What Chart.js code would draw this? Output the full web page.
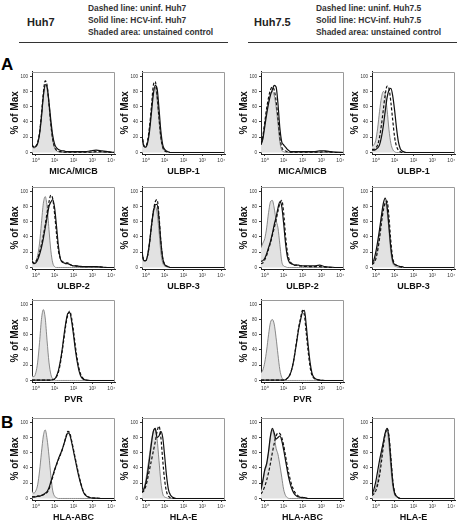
<!DOCTYPE html>
<html><head><meta charset="utf-8">
<script src="https://cdn.jsdelivr.net/npm/chart.js@4.4.1/dist/chart.umd.min.js"></script>
<style>
html,body{margin:0;padding:0;background:#fff;}
body{width:458px;height:525px;position:relative;overflow:hidden;font-family:"Liberation Sans",Arial,sans-serif;}
.t{position:absolute;font-weight:bold;color:#222;white-space:nowrap;}
.rule{position:absolute;height:1px;background:#333;}
canvas{position:absolute;}
</style></head><body>
<div class="t" style="left:27px;top:16px;font-size:11px;line-height:13px">Huh7</div>
<div class="t" style="left:88px;top:2px;font-size:8.4px;line-height:12px;color:#333">Dashed line: uninf. Huh7<br>Solid line: HCV-inf. Huh7<br>Shaded area: unstained control</div>
<div class="rule" style="left:19px;top:42px;width:209px"></div>
<div class="t" style="left:254px;top:16px;font-size:11px;line-height:13px">Huh7.5</div>
<div class="t" style="left:316px;top:2px;font-size:8.4px;line-height:12px;color:#333">Dashed line: uninf. Huh7.5<br>Solid line: HCV-inf. Huh7.5<br>Shaded area: unstained control</div>
<div class="rule" style="left:248px;top:42px;width:209px"></div>
<div class="t" style="left:1px;top:55.6px;font-size:17px;line-height:17px;color:#000">A</div>
<div class="t" style="left:1px;top:413.6px;font-size:17px;line-height:17px;color:#000">B</div>
<script>
// ---- data ----
const channelDecades = [-0.2,-0.1,0,0.1,0.2,0.3,0.4,0.5,0.6,0.7,0.8,0.9,1.0,1.1,1.2,1.3,1.4,1.5,1.6,1.7,1.8,1.9,2.0,2.1,2.2,2.3,2.4,2.5,2.6,2.9,3.2,3.5,3.8,4.2];
const axisTickDecades = [0,1,2,3,4];
const axisTickLabels = ['10\u2070','10\u00b9','10\u00b2','10\u00b3','10\u2074'];
const yTickValues = [0,20,40,60,80,100];
const yAxisTitle = '% of Max';

const huh7_MICA_ctrl  = [8,6,7,12,25,47,72,87,83,62, 35,16,6,2,1,0,0,0,0,0, 0,0,0,0,0,0,0,0,0, 0,0,0,0,0];
const huh7_MICA_uninf = [10,7,8,13,26,50,78,94,88,64, 37,17,7,3,2,1,1,0.5,0.5,0.5, 0.5,0.5,0.5,0.5,0.5,0.5,0.5,0.5,0.5, 0.5,1,1,0.5,0];
const huh7_MICA_inf   = [10,7,8,12,24,46,74,89,86,66, 42,22,11,6,4,3,2,2,1,1, 1,1,1,1,1,1,1,1,1, 2,3,2,1,0];

const huh7_ULBP1_ctrl  = [20,8,7,15,32,57,80,86,70,42, 18,6,2,1,0,0,0,0,0,0, 0,0,0,0,0,0,0,0,0, 0,0,0,0,0];
const huh7_ULBP1_uninf = [24,9,8,16,34,60,88,93,75,46, 20,7,2,1,0,0,0,0,0,0, 0,0,0,0,0,0,0,0,0, 0,0,0,0,0];
const huh7_ULBP1_inf   = [22,8,7,13,28,52,76,88,84,58, 28,10,4,2,1,0,0,0,0,0, 0,0,0,0,0,0,0,0,0, 0,0,0,0,0];

const huh75_MICA_ctrl  = [10,20,38,55,68,77,80,75,60,38, 14,3,1,0,0,0,0,0,0,0, 0,0,0,0,0,0,0,0,0, 0,0,0,0,0];
const huh75_MICA_uninf = [11,22,40,58,72,82,86,82,68,45, 20,7,3,2,1,0.5,0.5,0.5,0.5,0.5, 0.5,0.5,0.5,0.5,0.5,0.5,0.5,0.5,0.5, 0.5,1,0.5,0,0];
const huh75_MICA_inf   = [10,18,34,50,64,75,82,88,86,64, 32,14,10,7,4,2,1,1,1,1, 1,1,1,1,1,1,1,1,1, 2,2,1,0.5,0];

const huh75_ULBP1_ctrl  = [8,10,16,32,54,72,80,76,56,30, 12,4,1,0,0,0,0,0,0,0, 0,0,0,0,0,0,0,0,0, 0,0,0,0,0];
const huh75_ULBP1_uninf = [4,4,6,10,20,36,56,76,87,84, 66,42,20,8,3,1,0,0,0,0, 0,0,0,0,0,0,0,0,0, 0,0,0,0,0];
const huh75_ULBP1_inf   = [3,3,4,6,10,20,35,54,72,82, 84,74,55,32,14,5,2,1,0,0, 0,0,0,0,0,0,0,0,0, 0,0,0,0,0];

const huh7_ULBP2_ctrl  = [10,6,8,16,32,58,84,93,80,50, 22,6,1,0,0,0,0,0,0,0, 0,0,0,0,0,0,0,0,0, 0,0,0,0,0];
const huh7_ULBP2_uninf = [8,6,8,12,20,30,42,56,72,86, 95,90,70,44,22,12,8,7,6,6, 4,3,2,2,1.5,1.5,1,1,1, 1,1,0.5,0,0];
const huh7_ULBP2_inf   = [8,5,6,10,17,26,38,52,66,80, 86,89,78,54,28,12,7,6,5,5, 4,3,2,2,2,1.5,1.5,1,1, 1,1,0.5,0,0];

const huh7_ULBP3_ctrl  = [18,8,9,18,35,56,74,80,72,48, 20,6,2,1,0,0,0,0,0,0, 0,0,0,0,0,0,0,0,0, 0,0,0,0,0];
const huh7_ULBP3_uninf = [20,9,9,16,32,54,74,86,89,68, 34,12,4,2,1,0,0,0,0,0, 0,0,0,0,0,0,0,0,0, 0,0,0,0,0];
const huh7_ULBP3_inf   = [20,9,9,16,32,54,72,82,83,64, 34,12,4,2,1,0,0,0,0,0, 0,0,0,0,0,0,0,0,0, 0,0,0,0,0];

const huh75_ULBP2_ctrl  = [26,32,38,52,72,86,88,78,62,52, 30,8,2,1,0,0,0,0,0,0, 0,0,0,0,0,0,0,0,0, 0,0,0,0,0];
const huh75_ULBP2_uninf = [5,6,10,16,24,32,42,52,62,74, 84,88,72,42,20,10,6,4,3,3, 2,2,2,1.5,1.5,1.5,1,1,1, 1,0.5,0,0,0];
const huh75_ULBP2_inf   = [8,9,12,18,26,34,44,56,66,78, 86,80,58,32,14,7,5,4,3,3, 3,2,2,2,2,2,2,2,2, 3,1,0.5,0,0];

const huh75_ULBP3_ctrl  = [4,7,14,26,44,64,80,85,74,48, 20,6,2,1,0,0,0,0,0,0, 0,0,0,0,0,0,0,0,0, 0,0,0,0,0];
const huh75_ULBP3_uninf = [4,6,11,22,38,58,75,85,87,66, 34,12,5,3,2,1,0,0,0,0, 0,0,0,0,0,0,0,0,0, 0,0,0,0,0];
const huh75_ULBP3_inf   = [5,10,20,34,50,68,84,91,80,54, 26,9,4,3,2,1,1,0,0,0, 0,0,0,0,0,0,0,0,0, 0,0,0,0,0];

const huh7_PVR_ctrl  = [6,5,10,24,50,80,93,82,52,24, 8,2,0.5,0,0,0,0,0,0,0, 0,0,0,0,0,0,0,0,0, 0,0,0,0,0];
const huh7_PVR_uninf = [0.5,0.5,0.5,0.5,0.5,0.5,0.5,0.5,0.5,0.5, 0.5,1,2,5,11,22,38,56,74,86, 91,82,65,45,28,15,7,3,1, 0,0,0,0,0];
const huh7_PVR_inf   = [0.5,0.5,0.5,0.5,0.5,0.5,0.5,0.5,0.5,0.5, 0.5,1,2,6,13,25,41,60,77,88, 89,78,60,40,24,12,5,2,1, 0,0,0,0,0];

const huh75_PVR_ctrl  = [10,14,24,40,60,76,80,74,56,34, 14,4,1,0,0,0,0,0,0,0, 0,0,0,0,0,0,0,0,0, 0,0,0,0,0];
const huh75_PVR_uninf = [0.5,0.5,0.5,0.5,0.5,0.5,0.5,0.5,0.5,0.5, 0.5,0.5,0.5,1,3,6,12,22,37,54, 70,82,92,86,62,38,18,7,3, 0.5,0,0,0,0];
const huh75_PVR_inf   = [0.5,0.5,0.5,0.5,0.5,0.5,0.5,0.5,0.5,0.5, 0.5,0.5,0.5,1,3,6,12,22,36,52, 68,80,90,92,72,46,24,10,4, 0.5,0,0,0,0];

const huh7_HLAABC_ctrl  = [9,7,10,18,36,60,82,90,78,56, 30,10,3,1,0,0,0,0,0,0, 0,0,0,0,0,0,0,0,0, 0,0,0,0,0];
const huh7_HLAABC_uninf = [2,2,2,3,3,4,5,6,8,12, 20,28,37,44,51,57,64,72,81,88, 86,76,64,52,40,29,19,11,6, 1,0.5,0,0,0];
const huh7_HLAABC_inf   = [2,2,2,3,3,4,5,7,9,14, 22,30,38,45,52,58,64,72,80,86, 84,74,62,50,38,27,18,10,5, 1,0.5,0,0,0];

const huh7_HLAE_ctrl  = [10,14,24,40,58,76,88,92,78,50, 22,6,2,1,0,0,0,0,0,0, 0,0,0,0,0,0,0,0,0, 0,0,0,0,0];
const huh7_HLAE_uninf = [8,10,16,26,38,50,62,74,88,95, 80,50,24,9,3,1,0,0,0,0, 0,0,0,0,0,0,0,0,0, 0,0,0,0,0];
const huh7_HLAE_inf   = [8,12,20,34,52,72,88,92,80,82, 88,80,56,30,12,5,2,1,0,0, 0,0,0,0,0,0,0,0,0, 0,0,0,0,0];

const huh75_HLAABC_ctrl  = [10,22,36,44,60,80,90,82,66,58, 44,28,12,4,1,0,0,0,0,0, 0,0,0,0,0,0,0,0,0, 0,0,0,0,0];
const huh75_HLAABC_uninf = [6,10,16,24,34,46,60,72,82,86, 85,80,70,56,42,30,20,13,8,5, 3,2,1.5,1,0.5,0,0,0,0, 0,0,0,0,0];
const huh75_HLAABC_inf   = [12,24,38,46,62,82,92,86,78,80, 82,76,64,50,36,24,15,9,5,3, 2,1.5,1,1,0.5,0,0,0,0, 0,0,0,0,0];

const huh75_HLAE_ctrl  = [5,8,14,24,38,56,74,86,88,70, 40,16,5,2,1,0,0,0,0,0, 0,0,0,0,0,0,0,0,0, 0,0,0,0,0];
const huh75_HLAE_uninf = [4,6,10,18,30,48,68,84,92,82, 54,24,8,3,1,0,0,0,0,0, 0,0,0,0,0,0,0,0,0, 0,0,0,0,0];
const huh75_HLAE_inf   = [6,12,22,36,50,62,74,86,92,80, 50,22,7,3,1,0,0,0,0,0, 0,0,0,0,0,0,0,0,0, 0,0,0,0,0];

const panels = [
  {marker:'MICA/MICB', ctrl:huh7_MICA_ctrl,  uninf:huh7_MICA_uninf,  inf:huh7_MICA_inf},
  {marker:'ULBP-1',    ctrl:huh7_ULBP1_ctrl, uninf:huh7_ULBP1_uninf, inf:huh7_ULBP1_inf},
  {marker:'MICA/MICB', ctrl:huh75_MICA_ctrl, uninf:huh75_MICA_uninf, inf:huh75_MICA_inf},
  {marker:'ULBP-1',    ctrl:huh75_ULBP1_ctrl,uninf:huh75_ULBP1_uninf,inf:huh75_ULBP1_inf},
  {marker:'ULBP-2',    ctrl:huh7_ULBP2_ctrl, uninf:huh7_ULBP2_uninf, inf:huh7_ULBP2_inf},
  {marker:'ULBP-3',    ctrl:huh7_ULBP3_ctrl, uninf:huh7_ULBP3_uninf, inf:huh7_ULBP3_inf},
  {marker:'ULBP-2',    ctrl:huh75_ULBP2_ctrl,uninf:huh75_ULBP2_uninf,inf:huh75_ULBP2_inf},
  {marker:'ULBP-3',    ctrl:huh75_ULBP3_ctrl,uninf:huh75_ULBP3_uninf,inf:huh75_ULBP3_inf},
  {marker:'PVR',       ctrl:huh7_PVR_ctrl,   uninf:huh7_PVR_uninf,   inf:huh7_PVR_inf},
  {marker:'PVR',       ctrl:huh75_PVR_ctrl,  uninf:huh75_PVR_uninf,  inf:huh75_PVR_inf},
  {marker:'HLA-ABC',   ctrl:huh7_HLAABC_ctrl,uninf:huh7_HLAABC_uninf,inf:huh7_HLAABC_inf},
  {marker:'HLA-E',     ctrl:huh7_HLAE_ctrl,  uninf:huh7_HLAE_uninf,  inf:huh7_HLAE_inf},
  {marker:'HLA-ABC',   ctrl:huh75_HLAABC_ctrl,uninf:huh75_HLAABC_uninf,inf:huh75_HLAABC_inf},
  {marker:'HLA-E',     ctrl:huh75_HLAE_ctrl, uninf:huh75_HLAE_uninf, inf:huh75_HLAE_inf}
];

// ---- layout (positions only) ----
const colLeft = [32,142,261,372];
const rowTop = [71,186,299,417];
const slots = [[0,0],[1,0],[2,0],[3,0],[0,1],[1,1],[2,1],[3,1],[0,2],[2,2],[0,3],[1,3],[2,3],[3,3]];
const PLOT = 83, YAX = 32, XAX = 24, PADT = 4, PADR = 4;

Chart.defaults.font.family = '"Liberation Sans", Arial, sans-serif';

const framePlugin = {
  id:'frame',
  afterDatasetsDraw(chart){
    const a = chart.chartArea, c = chart.ctx;
    c.save();
    c.strokeStyle = '#9a9a9a'; c.lineWidth = 1;
    c.beginPath();
    c.moveTo(Math.round(a.left), Math.round(a.top)+0.5);
    c.lineTo(Math.round(a.right)-0.5, Math.round(a.top)+0.5);
    c.lineTo(Math.round(a.right)-0.5, Math.round(a.bottom));
    c.stroke();
    c.restore();
  }
};

function toXY(arr){ return channelDecades.map((x,i)=>({x:x, y:arr[i]})); }

panels.forEach((p, k) => {
  const [ci, ri] = slots[k];
  const cv = document.createElement('canvas');
  const W = YAX + PLOT + PADR, H = PADT + PLOT + XAX;
  cv.width = W; cv.height = H;
  cv.style.left = (colLeft[ci] - YAX) + 'px';
  cv.style.top = (rowTop[ri] - PADT) + 'px';
  cv.style.width = W + 'px'; cv.style.height = H + 'px';
  document.body.appendChild(cv);
  new Chart(cv, {
    type:'line',
    data:{datasets:[
      {label:'HCV-inf.', data:toXY(p.inf), borderColor:'#111', borderWidth:1.2, fill:false, order:0},
      {label:'uninf.', data:toXY(p.uninf), borderColor:'#111', borderWidth:1.2, borderDash:[3,2], fill:false, order:1},
      {label:'unstained control', data:toXY(p.ctrl), borderColor:'#6e6e6e', borderWidth:0.8, backgroundColor:'#e2e2e2', fill:'origin', order:2}
    ]},
    options:{
      responsive:false, animation:false, events:[],
      layout:{padding:{top:PADT, right:PADR, left:0, bottom:0}},
      plugins:{legend:{display:false}, tooltip:{enabled:false}},
      elements:{point:{radius:0}, line:{cubicInterpolationMode:'monotone'}},
      scales:{
        x:{
          type:'linear', min:-0.2, max:4.2,
          afterBuildTicks:s=>{ s.ticks = axisTickDecades.map(v=>({value:v})); },
          afterFit:s=>{ s.height = XAX; },
          ticks:{callback:v=>axisTickLabels[axisTickDecades.indexOf(v)], font:{size:5}, color:'#333', padding:2, maxRotation:0, autoSkip:false},
          grid:{display:true, drawOnChartArea:false, drawTicks:true, tickLength:2, color:'#333'},
          border:{display:true, color:'#222', width:1},
          title:{display:true, text:p.marker, font:{size:9, weight:'bold'}, color:'#111', padding:{top:0, bottom:0.6}}
        },
        y:{
          type:'linear', min:-2, max:106,
          afterBuildTicks:s=>{ s.ticks = yTickValues.map(v=>({value:v})); },
          afterFit:s=>{ s.width = YAX; },
          ticks:{font:{size:4.5}, color:'#333', padding:2, autoSkip:false},
          grid:{display:true, drawOnChartArea:false, drawTicks:true, tickLength:2, color:'#333'},
          border:{display:true, color:'#222', width:1},
          title:{display:true, text:yAxisTitle, font:{size:10, weight:'bold'}, color:'#111', padding:{top:9, bottom:0}}
        }
      }
    },
    plugins:[framePlugin]
  });
});
</script>
</body></html>
